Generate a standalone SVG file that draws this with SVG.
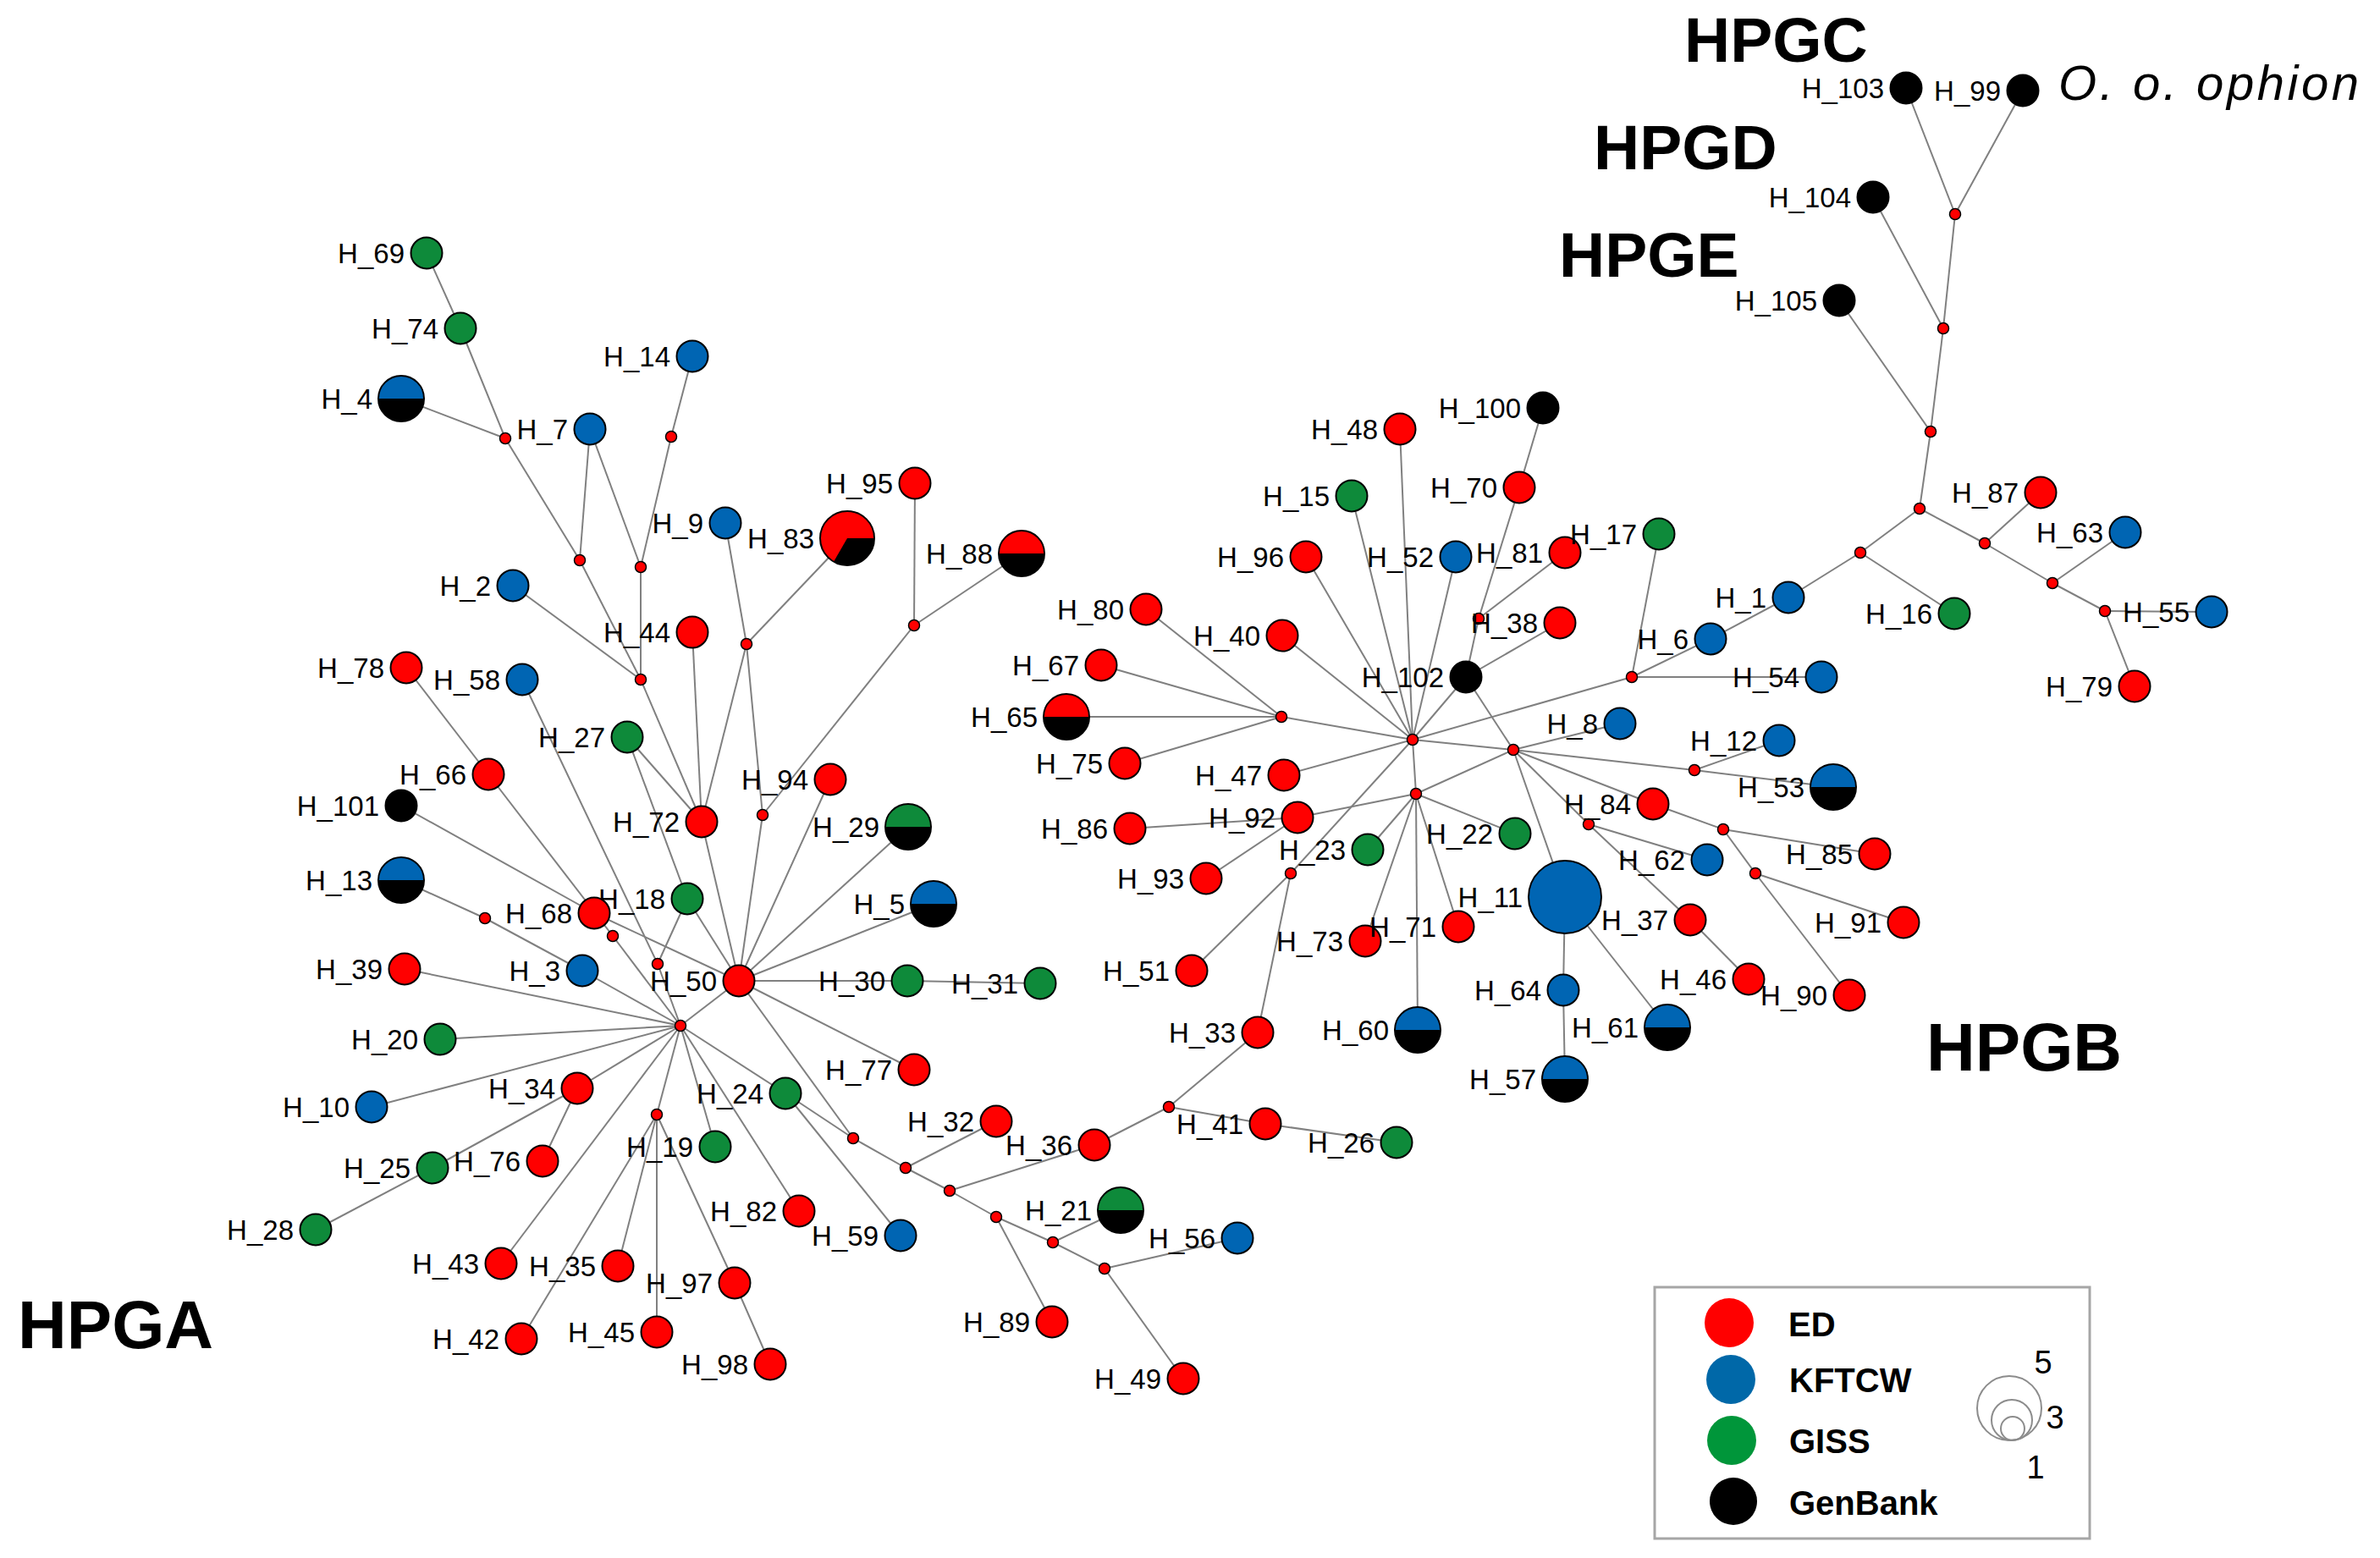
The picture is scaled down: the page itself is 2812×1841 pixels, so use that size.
<svg xmlns="http://www.w3.org/2000/svg" width="2812" height="1841" viewBox="0 0 2812 1841">
<style>
.e{stroke:#808080;stroke-width:2;fill:none}
.n{stroke:#000;stroke-width:2}
.o{fill:none;stroke:#000;stroke-width:2}
.mv{fill:#ff0000;stroke:#000;stroke-width:1.5}
.R{fill:#ff0000}.B{fill:#0065b3}.G{fill:#0e8a3a}.K{fill:#000}
.l{font-family:"Liberation Sans",Arial,sans-serif;font-size:33px;text-anchor:end;fill:#000}
.big{font-family:"Liberation Sans",Arial,sans-serif;font-weight:bold;fill:#000}
.lg{font-family:"Liberation Sans",Arial,sans-serif;font-weight:bold;font-size:40px;fill:#000}
.sz{font-family:"Liberation Sans",Arial,sans-serif;font-size:38px;text-anchor:middle;fill:#000}
</style>
<rect width="2812" height="1841" fill="#fff"/>
<g id="connectors">
<line class="e" x1="504" y1="299" x2="544" y2="388"/>
<line class="e" x1="544" y1="388" x2="597" y2="518"/>
<line class="e" x1="474" y1="471" x2="597" y2="518"/>
<line class="e" x1="597" y1="518" x2="685" y2="662"/>
<line class="e" x1="697" y1="507" x2="685" y2="662"/>
<line class="e" x1="697" y1="507" x2="757" y2="670"/>
<line class="e" x1="818" y1="421" x2="793" y2="516"/>
<line class="e" x1="793" y1="516" x2="757" y2="670"/>
<line class="e" x1="685" y1="662" x2="757" y2="803"/>
<line class="e" x1="757" y1="670" x2="757" y2="803"/>
<line class="e" x1="606" y1="692" x2="757" y2="803"/>
<line class="e" x1="757" y1="803" x2="829" y2="971"/>
<line class="e" x1="818" y1="747" x2="829" y2="971"/>
<line class="e" x1="857" y1="618" x2="882" y2="761"/>
<line class="e" x1="1001" y1="636" x2="882" y2="761"/>
<line class="e" x1="882" y1="761" x2="829" y2="971"/>
<line class="e" x1="882" y1="761" x2="901" y2="963"/>
<line class="e" x1="1081" y1="571" x2="1080" y2="739"/>
<line class="e" x1="1207" y1="654" x2="1080" y2="739"/>
<line class="e" x1="1080" y1="739" x2="901" y2="963"/>
<line class="e" x1="901" y1="963" x2="873" y2="1159"/>
<line class="e" x1="981" y1="921" x2="873" y2="1159"/>
<line class="e" x1="829" y1="971" x2="873" y2="1159"/>
<line class="e" x1="741" y1="871" x2="829" y2="971"/>
<line class="e" x1="741" y1="871" x2="812" y2="1062"/>
<line class="e" x1="812" y1="1062" x2="873" y2="1159"/>
<line class="e" x1="812" y1="1062" x2="777" y2="1139"/>
<line class="e" x1="617" y1="803" x2="777" y2="1139"/>
<line class="e" x1="777" y1="1139" x2="804" y2="1212"/>
<line class="e" x1="480" y1="789" x2="577" y2="915"/>
<line class="e" x1="577" y1="915" x2="724" y2="1106"/>
<line class="e" x1="724" y1="1106" x2="804" y2="1212"/>
<line class="e" x1="474" y1="952" x2="702" y2="1079"/>
<line class="e" x1="702" y1="1079" x2="873" y2="1159"/>
<line class="e" x1="474" y1="1040" x2="573" y2="1085"/>
<line class="e" x1="573" y1="1085" x2="688" y2="1147"/>
<line class="e" x1="688" y1="1147" x2="804" y2="1212"/>
<line class="e" x1="478" y1="1145" x2="804" y2="1212"/>
<line class="e" x1="520" y1="1228" x2="804" y2="1212"/>
<line class="e" x1="439" y1="1308" x2="804" y2="1212"/>
<line class="e" x1="682" y1="1286" x2="804" y2="1212"/>
<line class="e" x1="511" y1="1380" x2="682" y2="1286"/>
<line class="e" x1="641" y1="1372" x2="682" y2="1286"/>
<line class="e" x1="373" y1="1453" x2="511" y2="1380"/>
<line class="e" x1="804" y1="1212" x2="873" y2="1159"/>
<line class="e" x1="804" y1="1212" x2="776" y2="1317"/>
<line class="e" x1="776" y1="1317" x2="616" y2="1582"/>
<line class="e" x1="776" y1="1317" x2="730" y2="1496"/>
<line class="e" x1="776" y1="1317" x2="776" y2="1574"/>
<line class="e" x1="776" y1="1317" x2="868" y2="1516"/>
<line class="e" x1="868" y1="1516" x2="910" y2="1612"/>
<line class="e" x1="804" y1="1212" x2="592" y2="1493"/>
<line class="e" x1="804" y1="1212" x2="845" y2="1355"/>
<line class="e" x1="804" y1="1212" x2="944" y2="1431"/>
<line class="e" x1="804" y1="1212" x2="928" y2="1292"/>
<line class="e" x1="928" y1="1292" x2="1064" y2="1460"/>
<line class="e" x1="928" y1="1292" x2="1008" y2="1345"/>
<line class="e" x1="873" y1="1159" x2="1008" y2="1345"/>
<line class="e" x1="1073" y1="977" x2="873" y2="1159"/>
<line class="e" x1="1103" y1="1068" x2="873" y2="1159"/>
<line class="e" x1="1072" y1="1159" x2="873" y2="1159"/>
<line class="e" x1="1072" y1="1159" x2="1229" y2="1162"/>
<line class="e" x1="1080" y1="1264" x2="873" y2="1159"/>
<line class="e" x1="1008" y1="1345" x2="1070" y2="1380"/>
<line class="e" x1="1070" y1="1380" x2="1122" y2="1407"/>
<line class="e" x1="1122" y1="1407" x2="1177" y2="1438"/>
<line class="e" x1="1177" y1="1438" x2="1244" y2="1468"/>
<line class="e" x1="1244" y1="1468" x2="1305" y2="1499"/>
<line class="e" x1="1070" y1="1380" x2="1177" y2="1325"/>
<line class="e" x1="1122" y1="1407" x2="1293" y2="1353"/>
<line class="e" x1="1293" y1="1353" x2="1381" y2="1308"/>
<line class="e" x1="1381" y1="1308" x2="1486" y2="1220"/>
<line class="e" x1="1381" y1="1308" x2="1495" y2="1328"/>
<line class="e" x1="1495" y1="1328" x2="1650" y2="1350"/>
<line class="e" x1="1177" y1="1438" x2="1243" y2="1562"/>
<line class="e" x1="1244" y1="1468" x2="1324" y2="1430"/>
<line class="e" x1="1305" y1="1499" x2="1462" y2="1463"/>
<line class="e" x1="1305" y1="1499" x2="1398" y2="1629"/>
<line class="e" x1="1486" y1="1220" x2="1525" y2="1032"/>
<line class="e" x1="1525" y1="1032" x2="1408" y2="1147"/>
<line class="e" x1="1525" y1="1032" x2="1669" y2="874"/>
<line class="e" x1="1425" y1="1038" x2="1533" y2="966"/>
<line class="e" x1="1335" y1="979" x2="1533" y2="966"/>
<line class="e" x1="1533" y1="966" x2="1673" y2="938"/>
<line class="e" x1="1616" y1="1004" x2="1673" y2="938"/>
<line class="e" x1="1613" y1="1112" x2="1673" y2="938"/>
<line class="e" x1="1723" y1="1095" x2="1673" y2="938"/>
<line class="e" x1="1675" y1="1217" x2="1673" y2="938"/>
<line class="e" x1="1790" y1="985" x2="1673" y2="938"/>
<line class="e" x1="1673" y1="938" x2="1669" y2="874"/>
<line class="e" x1="1673" y1="938" x2="1788" y2="886"/>
<line class="e" x1="1669" y1="874" x2="1788" y2="886"/>
<line class="e" x1="1669" y1="874" x2="1928" y2="800"/>
<line class="e" x1="1669" y1="874" x2="1514" y2="847"/>
<line class="e" x1="1514" y1="847" x2="1354" y2="720"/>
<line class="e" x1="1514" y1="847" x2="1301" y2="786"/>
<line class="e" x1="1514" y1="847" x2="1260" y2="847"/>
<line class="e" x1="1514" y1="847" x2="1329" y2="902"/>
<line class="e" x1="1515" y1="751" x2="1669" y2="874"/>
<line class="e" x1="1517" y1="916" x2="1669" y2="874"/>
<line class="e" x1="1543" y1="658" x2="1669" y2="874"/>
<line class="e" x1="1597" y1="586" x2="1669" y2="874"/>
<line class="e" x1="1654" y1="507" x2="1669" y2="874"/>
<line class="e" x1="1720" y1="658" x2="1669" y2="874"/>
<line class="e" x1="1732" y1="800" x2="1669" y2="874"/>
<line class="e" x1="1732" y1="800" x2="1788" y2="886"/>
<line class="e" x1="1732" y1="800" x2="1747" y2="731"/>
<line class="e" x1="1747" y1="731" x2="1795" y2="576"/>
<line class="e" x1="1747" y1="731" x2="1849" y2="653"/>
<line class="e" x1="1795" y1="576" x2="1823" y2="482"/>
<line class="e" x1="1843" y1="736" x2="1732" y2="800"/>
<line class="e" x1="1788" y1="886" x2="1914" y2="855"/>
<line class="e" x1="1788" y1="886" x2="2002" y2="910"/>
<line class="e" x1="2002" y1="910" x2="2102" y2="875"/>
<line class="e" x1="2002" y1="910" x2="2166" y2="930"/>
<line class="e" x1="1788" y1="886" x2="1953" y2="950"/>
<line class="e" x1="1953" y1="950" x2="2036" y2="980"/>
<line class="e" x1="1788" y1="886" x2="1877" y2="974"/>
<line class="e" x1="1877" y1="974" x2="2017" y2="1016"/>
<line class="e" x1="1877" y1="974" x2="1997" y2="1087"/>
<line class="e" x1="1997" y1="1087" x2="2066" y2="1157"/>
<line class="e" x1="2036" y1="980" x2="2215" y2="1009"/>
<line class="e" x1="2036" y1="980" x2="2074" y2="1032"/>
<line class="e" x1="2074" y1="1032" x2="2249" y2="1090"/>
<line class="e" x1="2074" y1="1032" x2="2185" y2="1176"/>
<line class="e" x1="1788" y1="886" x2="1849" y2="1060"/>
<line class="e" x1="1849" y1="1060" x2="1847" y2="1170"/>
<line class="e" x1="1847" y1="1170" x2="1849" y2="1275"/>
<line class="e" x1="1849" y1="1060" x2="1970" y2="1214"/>
<line class="e" x1="1928" y1="800" x2="1960" y2="631"/>
<line class="e" x1="1928" y1="800" x2="2152" y2="800"/>
<line class="e" x1="1928" y1="800" x2="2021" y2="755"/>
<line class="e" x1="2021" y1="755" x2="2113" y2="706"/>
<line class="e" x1="2113" y1="706" x2="2198" y2="653"/>
<line class="e" x1="2198" y1="653" x2="2309" y2="725"/>
<line class="e" x1="2198" y1="653" x2="2268" y2="601"/>
<line class="e" x1="2268" y1="601" x2="2281" y2="510"/>
<line class="e" x1="2268" y1="601" x2="2345" y2="642"/>
<line class="e" x1="2345" y1="642" x2="2411" y2="582"/>
<line class="e" x1="2345" y1="642" x2="2425" y2="689"/>
<line class="e" x1="2425" y1="689" x2="2511" y2="629"/>
<line class="e" x1="2425" y1="689" x2="2487" y2="722"/>
<line class="e" x1="2487" y1="722" x2="2613" y2="723"/>
<line class="e" x1="2487" y1="722" x2="2522" y2="811"/>
<line class="e" x1="2281" y1="510" x2="2173" y2="355"/>
<line class="e" x1="2281" y1="510" x2="2296" y2="388"/>
<line class="e" x1="2296" y1="388" x2="2213" y2="233"/>
<line class="e" x1="2296" y1="388" x2="2310" y2="253"/>
<line class="e" x1="2310" y1="253" x2="2252" y2="104"/>
<line class="e" x1="2310" y1="253" x2="2390" y2="107"/>
</g>
<g id="median-vectors">
<g id="mv_a"><circle class="mv" cx="597" cy="518" r="6.5"/></g>
<g id="mv_b"><circle class="mv" cx="793" cy="516" r="6.5"/></g>
<g id="mv_c"><circle class="mv" cx="685" cy="662" r="6.5"/></g>
<g id="mv_d"><circle class="mv" cx="757" cy="670" r="6.5"/></g>
<g id="mv_e"><circle class="mv" cx="882" cy="761" r="6.5"/></g>
<g id="mv_f"><circle class="mv" cx="757" cy="803" r="6.5"/></g>
<g id="mv_g"><circle class="mv" cx="901" cy="963" r="6.5"/></g>
<g id="mv_h"><circle class="mv" cx="573" cy="1085" r="6.5"/></g>
<g id="mv_i"><circle class="mv" cx="724" cy="1106" r="6.5"/></g>
<g id="mv_j"><circle class="mv" cx="777" cy="1139" r="6.5"/></g>
<g id="mv_k"><circle class="mv" cx="804" cy="1212" r="6.5"/></g>
<g id="mv_l"><circle class="mv" cx="776" cy="1317" r="6.5"/></g>
<g id="mv_m"><circle class="mv" cx="1080" cy="739" r="6.5"/></g>
<g id="mv_n"><circle class="mv" cx="1514" cy="847" r="6.5"/></g>
<g id="mv_o"><circle class="mv" cx="1669" cy="874" r="6.5"/></g>
<g id="mv_p"><circle class="mv" cx="1673" cy="938" r="6.5"/></g>
<g id="mv_q"><circle class="mv" cx="1788" cy="886" r="6.5"/></g>
<g id="mv_r"><circle class="mv" cx="1525" cy="1032" r="6.5"/></g>
<g id="mv_s"><circle class="mv" cx="1747" cy="731" r="6.5"/></g>
<g id="mv_t"><circle class="mv" cx="2281" cy="510" r="6.5"/></g>
<g id="mv_u"><circle class="mv" cx="2268" cy="601" r="6.5"/></g>
<g id="mv_v"><circle class="mv" cx="2345" cy="642" r="6.5"/></g>
<g id="mv_w"><circle class="mv" cx="2198" cy="653" r="6.5"/></g>
<g id="mv_x"><circle class="mv" cx="2425" cy="689" r="6.5"/></g>
<g id="mv_y"><circle class="mv" cx="2487" cy="722" r="6.5"/></g>
<g id="mv_z"><circle class="mv" cx="1928" cy="800" r="6.5"/></g>
<g id="mv_aa"><circle class="mv" cx="2002" cy="910" r="6.5"/></g>
<g id="mv_bb"><circle class="mv" cx="1877" cy="974" r="6.5"/></g>
<g id="mv_cc"><circle class="mv" cx="2036" cy="980" r="6.5"/></g>
<g id="mv_dd"><circle class="mv" cx="2074" cy="1032" r="6.5"/></g>
<g id="mv_ee"><circle class="mv" cx="1381" cy="1308" r="6.5"/></g>
<g id="mv_ff"><circle class="mv" cx="1008" cy="1345" r="6.5"/></g>
<g id="mv_gg"><circle class="mv" cx="1070" cy="1380" r="6.5"/></g>
<g id="mv_hh"><circle class="mv" cx="1122" cy="1407" r="6.5"/></g>
<g id="mv_ii"><circle class="mv" cx="1177" cy="1438" r="6.5"/></g>
<g id="mv_jj"><circle class="mv" cx="1244" cy="1468" r="6.5"/></g>
<g id="mv_kk"><circle class="mv" cx="1305" cy="1499" r="6.5"/></g>
<g id="mv_ll"><circle class="mv" cx="2310" cy="253" r="6.5"/></g>
<g id="mv_mm"><circle class="mv" cx="2296" cy="388" r="6.5"/></g>
</g>
<g id="haplotypes">
<g id="H_69"><circle class="n G" cx="504" cy="299" r="18.5"/><text class="l" x="478" y="311">H_69</text></g>
<g id="H_74"><circle class="n G" cx="544" cy="388" r="18.5"/><text class="l" x="518" y="400">H_74</text></g>
<g id="H_14"><circle class="n B" cx="818" cy="421" r="18.5"/><text class="l" x="792" y="433">H_14</text></g>
<g id="H_4"><circle class="K" cx="474" cy="471" r="27"/><path class="B" d="M447,471 A27,27 0 0 1 501,471 Z"/><circle class="o" cx="474" cy="471" r="27"/><text class="l" x="440" y="483">H_4</text></g>
<g id="H_7"><circle class="n B" cx="697" cy="507" r="18.5"/><text class="l" x="671" y="519">H_7</text></g>
<g id="H_9"><circle class="n B" cx="857" cy="618" r="18.5"/><text class="l" x="831" y="630">H_9</text></g>
<g id="H_2"><circle class="n B" cx="606" cy="692" r="18.5"/><text class="l" x="580" y="704">H_2</text></g>
<g id="H_44"><circle class="n R" cx="818" cy="747" r="18.5"/><text class="l" x="792" y="759">H_44</text></g>
<g id="H_78"><circle class="n R" cx="480" cy="789" r="18.5"/><text class="l" x="454" y="801">H_78</text></g>
<g id="H_58"><circle class="n B" cx="617" cy="803" r="18.5"/><text class="l" x="591" y="815">H_58</text></g>
<g id="H_27"><circle class="n G" cx="741" cy="871" r="18.5"/><text class="l" x="715" y="883">H_27</text></g>
<g id="H_66"><circle class="n R" cx="577" cy="915" r="18.5"/><text class="l" x="551" y="927">H_66</text></g>
<g id="H_101"><circle class="n K" cx="474" cy="952" r="18.5"/><text class="l" x="448" y="964">H_101</text></g>
<g id="H_72"><circle class="n R" cx="829" cy="971" r="18.5"/><text class="l" x="803" y="983">H_72</text></g>
<g id="H_94"><circle class="n R" cx="981" cy="921" r="18.5"/><text class="l" x="955" y="933">H_94</text></g>
<g id="H_13"><circle class="K" cx="474" cy="1040" r="27"/><path class="B" d="M447,1040 A27,27 0 0 1 501,1040 Z"/><circle class="o" cx="474" cy="1040" r="27"/><text class="l" x="440" y="1052">H_13</text></g>
<g id="H_18"><circle class="n G" cx="812" cy="1062" r="18.5"/><text class="l" x="786" y="1074">H_18</text></g>
<g id="H_68"><circle class="n R" cx="702" cy="1079" r="18.5"/><text class="l" x="676" y="1091">H_68</text></g>
<g id="H_39"><circle class="n R" cx="478" cy="1145" r="18.5"/><text class="l" x="452" y="1157">H_39</text></g>
<g id="H_3"><circle class="n B" cx="688" cy="1147" r="18.5"/><text class="l" x="662" y="1159">H_3</text></g>
<g id="H_50"><circle class="n R" cx="873" cy="1159" r="18.5"/><text class="l" x="847" y="1171">H_50</text></g>
<g id="H_20"><circle class="n G" cx="520" cy="1228" r="18.5"/><text class="l" x="494" y="1240">H_20</text></g>
<g id="H_34"><circle class="n R" cx="682" cy="1286" r="18.5"/><text class="l" x="656" y="1298">H_34</text></g>
<g id="H_10"><circle class="n B" cx="439" cy="1308" r="18.5"/><text class="l" x="413" y="1320">H_10</text></g>
<g id="H_24"><circle class="n G" cx="928" cy="1292" r="18.5"/><text class="l" x="902" y="1304">H_24</text></g>
<g id="H_19"><circle class="n G" cx="845" cy="1355" r="18.5"/><text class="l" x="819" y="1367">H_19</text></g>
<g id="H_76"><circle class="n R" cx="641" cy="1372" r="18.5"/><text class="l" x="615" y="1384">H_76</text></g>
<g id="H_25"><circle class="n G" cx="511" cy="1380" r="18.5"/><text class="l" x="485" y="1392">H_25</text></g>
<g id="H_82"><circle class="n R" cx="944" cy="1431" r="18.5"/><text class="l" x="918" y="1443">H_82</text></g>
<g id="H_28"><circle class="n G" cx="373" cy="1453" r="18.5"/><text class="l" x="347" y="1465">H_28</text></g>
<g id="H_43"><circle class="n R" cx="592" cy="1493" r="18.5"/><text class="l" x="566" y="1505">H_43</text></g>
<g id="H_35"><circle class="n R" cx="730" cy="1496" r="18.5"/><text class="l" x="704" y="1508">H_35</text></g>
<g id="H_97"><circle class="n R" cx="868" cy="1516" r="18.5"/><text class="l" x="842" y="1528">H_97</text></g>
<g id="H_42"><circle class="n R" cx="616" cy="1582" r="18.5"/><text class="l" x="590" y="1594">H_42</text></g>
<g id="H_45"><circle class="n R" cx="776" cy="1574" r="18.5"/><text class="l" x="750" y="1586">H_45</text></g>
<g id="H_98"><circle class="n R" cx="910" cy="1612" r="18.5"/><text class="l" x="884" y="1624">H_98</text></g>
<g id="H_95"><circle class="n R" cx="1081" cy="571" r="18.5"/><text class="l" x="1055" y="583">H_95</text></g>
<g id="H_83"><circle class="R" cx="1001" cy="636" r="32"/><path class="K" d="M1001,636 L1033,636 A32,32 0 0 1 985,663.7 Z"/><circle class="o" cx="1001" cy="636" r="32"/><text class="l" x="962" y="648">H_83</text></g>
<g id="H_88"><circle class="K" cx="1207" cy="654" r="27"/><path class="R" d="M1180,654 A27,27 0 0 1 1234,654 Z"/><circle class="o" cx="1207" cy="654" r="27"/><text class="l" x="1173" y="666">H_88</text></g>
<g id="H_29"><circle class="K" cx="1073" cy="977" r="27"/><path class="G" d="M1046,977 A27,27 0 0 1 1100,977 Z"/><circle class="o" cx="1073" cy="977" r="27"/><text class="l" x="1039" y="989">H_29</text></g>
<g id="H_5"><circle class="K" cx="1103" cy="1068" r="27"/><path class="B" d="M1076,1068 A27,27 0 0 1 1130,1068 Z"/><circle class="o" cx="1103" cy="1068" r="27"/><text class="l" x="1069" y="1080">H_5</text></g>
<g id="H_30"><circle class="n G" cx="1072" cy="1159" r="18.5"/><text class="l" x="1046" y="1171">H_30</text></g>
<g id="H_31"><circle class="n G" cx="1229" cy="1162" r="18.5"/><text class="l" x="1203" y="1174">H_31</text></g>
<g id="H_77"><circle class="n R" cx="1080" cy="1264" r="18.5"/><text class="l" x="1054" y="1276">H_77</text></g>
<g id="H_59"><circle class="n B" cx="1064" cy="1460" r="18.5"/><text class="l" x="1038" y="1472">H_59</text></g>
<g id="H_32"><circle class="n R" cx="1177" cy="1325" r="18.5"/><text class="l" x="1151" y="1337">H_32</text></g>
<g id="H_36"><circle class="n R" cx="1293" cy="1353" r="18.5"/><text class="l" x="1267" y="1365">H_36</text></g>
<g id="H_21"><circle class="K" cx="1324" cy="1430" r="27"/><path class="G" d="M1297,1430 A27,27 0 0 1 1351,1430 Z"/><circle class="o" cx="1324" cy="1430" r="27"/><text class="l" x="1290" y="1442">H_21</text></g>
<g id="H_56"><circle class="n B" cx="1462" cy="1463" r="18.5"/><text class="l" x="1436" y="1475">H_56</text></g>
<g id="H_89"><circle class="n R" cx="1243" cy="1562" r="18.5"/><text class="l" x="1217" y="1574">H_89</text></g>
<g id="H_49"><circle class="n R" cx="1398" cy="1629" r="18.5"/><text class="l" x="1372" y="1641">H_49</text></g>
<g id="H_33"><circle class="n R" cx="1486" cy="1220" r="18.5"/><text class="l" x="1460" y="1232">H_33</text></g>
<g id="H_41"><circle class="n R" cx="1495" cy="1328" r="18.5"/><text class="l" x="1469" y="1340">H_41</text></g>
<g id="H_26"><circle class="n G" cx="1650" cy="1350" r="18.5"/><text class="l" x="1624" y="1362">H_26</text></g>
<g id="H_51"><circle class="n R" cx="1408" cy="1147" r="18.5"/><text class="l" x="1382" y="1159">H_51</text></g>
<g id="H_93"><circle class="n R" cx="1425" cy="1038" r="18.5"/><text class="l" x="1399" y="1050">H_93</text></g>
<g id="H_86"><circle class="n R" cx="1335" cy="979" r="18.5"/><text class="l" x="1309" y="991">H_86</text></g>
<g id="H_92"><circle class="n R" cx="1533" cy="966" r="18.5"/><text class="l" x="1507" y="978">H_92</text></g>
<g id="H_23"><circle class="n G" cx="1616" cy="1004" r="18.5"/><text class="l" x="1590" y="1016">H_23</text></g>
<g id="H_73"><circle class="n R" cx="1613" cy="1112" r="18.5"/><text class="l" x="1587" y="1124">H_73</text></g>
<g id="H_71"><circle class="n R" cx="1723" cy="1095" r="18.5"/><text class="l" x="1697" y="1107">H_71</text></g>
<g id="H_60"><circle class="K" cx="1675" cy="1217" r="27"/><path class="B" d="M1648,1217 A27,27 0 0 1 1702,1217 Z"/><circle class="o" cx="1675" cy="1217" r="27"/><text class="l" x="1641" y="1229">H_60</text></g>
<g id="H_22"><circle class="n G" cx="1790" cy="985" r="18.5"/><text class="l" x="1764" y="997">H_22</text></g>
<g id="H_80"><circle class="n R" cx="1354" cy="720" r="18.5"/><text class="l" x="1328" y="732">H_80</text></g>
<g id="H_40"><circle class="n R" cx="1515" cy="751" r="18.5"/><text class="l" x="1489" y="763">H_40</text></g>
<g id="H_67"><circle class="n R" cx="1301" cy="786" r="18.5"/><text class="l" x="1275" y="798">H_67</text></g>
<g id="H_65"><circle class="K" cx="1260" cy="847" r="27"/><path class="R" d="M1233,847 A27,27 0 0 1 1287,847 Z"/><circle class="o" cx="1260" cy="847" r="27"/><text class="l" x="1226" y="859">H_65</text></g>
<g id="H_75"><circle class="n R" cx="1329" cy="902" r="18.5"/><text class="l" x="1303" y="914">H_75</text></g>
<g id="H_47"><circle class="n R" cx="1517" cy="916" r="18.5"/><text class="l" x="1491" y="928">H_47</text></g>
<g id="H_48"><circle class="n R" cx="1654" cy="507" r="18.5"/><text class="l" x="1628" y="519">H_48</text></g>
<g id="H_100"><circle class="n K" cx="1823" cy="482" r="18.5"/><text class="l" x="1797" y="494">H_100</text></g>
<g id="H_15"><circle class="n G" cx="1597" cy="586" r="18.5"/><text class="l" x="1571" y="598">H_15</text></g>
<g id="H_70"><circle class="n R" cx="1795" cy="576" r="18.5"/><text class="l" x="1769" y="588">H_70</text></g>
<g id="H_96"><circle class="n R" cx="1543" cy="658" r="18.5"/><text class="l" x="1517" y="670">H_96</text></g>
<g id="H_52"><circle class="n B" cx="1720" cy="658" r="18.5"/><text class="l" x="1694" y="670">H_52</text></g>
<g id="H_81"><circle class="n R" cx="1849" cy="653" r="18.5"/><text class="l" x="1823" y="665">H_81</text></g>
<g id="H_38"><circle class="n R" cx="1843" cy="736" r="18.5"/><text class="l" x="1817" y="748">H_38</text></g>
<g id="H_102"><circle class="n K" cx="1732" cy="800" r="18.5"/><text class="l" x="1706" y="812">H_102</text></g>
<g id="H_17"><circle class="n G" cx="1960" cy="631" r="18.5"/><text class="l" x="1934" y="643">H_17</text></g>
<g id="H_1"><circle class="n B" cx="2113" cy="706" r="18.5"/><text class="l" x="2087" y="718">H_1</text></g>
<g id="H_6"><circle class="n B" cx="2021" cy="755" r="18.5"/><text class="l" x="1995" y="767">H_6</text></g>
<g id="H_54"><circle class="n B" cx="2152" cy="800" r="18.5"/><text class="l" x="2126" y="812">H_54</text></g>
<g id="H_8"><circle class="n B" cx="1914" cy="855" r="18.5"/><text class="l" x="1888" y="867">H_8</text></g>
<g id="H_12"><circle class="n B" cx="2102" cy="875" r="18.5"/><text class="l" x="2076" y="887">H_12</text></g>
<g id="H_53"><circle class="K" cx="2166" cy="930" r="27"/><path class="B" d="M2139,930 A27,27 0 0 1 2193,930 Z"/><circle class="o" cx="2166" cy="930" r="27"/><text class="l" x="2132" y="942">H_53</text></g>
<g id="H_84"><circle class="n R" cx="1953" cy="950" r="18.5"/><text class="l" x="1927" y="962">H_84</text></g>
<g id="H_62"><circle class="n B" cx="2017" cy="1016" r="18.5"/><text class="l" x="1991" y="1028">H_62</text></g>
<g id="H_85"><circle class="n R" cx="2215" cy="1009" r="18.5"/><text class="l" x="2189" y="1021">H_85</text></g>
<g id="H_11"><circle class="n B" cx="1849" cy="1060" r="43"/><text class="l" x="1799" y="1072">H_11</text></g>
<g id="H_37"><circle class="n R" cx="1997" cy="1087" r="18.5"/><text class="l" x="1971" y="1099">H_37</text></g>
<g id="H_91"><circle class="n R" cx="2249" cy="1090" r="18.5"/><text class="l" x="2223" y="1102">H_91</text></g>
<g id="H_64"><circle class="n B" cx="1847" cy="1170" r="18.5"/><text class="l" x="1821" y="1182">H_64</text></g>
<g id="H_46"><circle class="n R" cx="2066" cy="1157" r="18.5"/><text class="l" x="2040" y="1169">H_46</text></g>
<g id="H_90"><circle class="n R" cx="2185" cy="1176" r="18.5"/><text class="l" x="2159" y="1188">H_90</text></g>
<g id="H_61"><circle class="K" cx="1970" cy="1214" r="27"/><path class="B" d="M1943,1214 A27,27 0 0 1 1997,1214 Z"/><circle class="o" cx="1970" cy="1214" r="27"/><text class="l" x="1936" y="1226">H_61</text></g>
<g id="H_57"><circle class="K" cx="1849" cy="1275" r="27"/><path class="B" d="M1822,1275 A27,27 0 0 1 1876,1275 Z"/><circle class="o" cx="1849" cy="1275" r="27"/><text class="l" x="1815" y="1287">H_57</text></g>
<g id="H_87"><circle class="n R" cx="2411" cy="582" r="18.5"/><text class="l" x="2385" y="594">H_87</text></g>
<g id="H_63"><circle class="n B" cx="2511" cy="629" r="18.5"/><text class="l" x="2485" y="641">H_63</text></g>
<g id="H_16"><circle class="n G" cx="2309" cy="725" r="18.5"/><text class="l" x="2283" y="737">H_16</text></g>
<g id="H_55"><circle class="n B" cx="2613" cy="723" r="18.5"/><text class="l" x="2587" y="735">H_55</text></g>
<g id="H_79"><circle class="n R" cx="2522" cy="811" r="18.5"/><text class="l" x="2496" y="823">H_79</text></g>
<g id="H_103"><circle class="n K" cx="2252" cy="104" r="18.5"/><text class="l" x="2226" y="116">H_103</text></g>
<g id="H_99"><circle class="n K" cx="2390" cy="107" r="18.5"/><text class="l" x="2364" y="119">H_99</text></g>
<g id="H_104"><circle class="n K" cx="2213" cy="233" r="18.5"/><text class="l" x="2187" y="245">H_104</text></g>
<g id="H_105"><circle class="n K" cx="2173" cy="355" r="18.5"/><text class="l" x="2147" y="367">H_105</text></g>
</g>
<g id="group-labels">
<text class="big" x="21" y="1593" font-size="80">HPGA</text>
<text class="big" x="2276" y="1265" font-size="80">HPGB</text>
<text class="big" x="1990" y="73" font-size="75">HPGC</text>
<text class="big" x="1883" y="200" font-size="75">HPGD</text>
<text class="big" x="1842" y="327" font-size="75">HPGE</text>
<text x="2432" y="118" font-family="Liberation Sans, Arial, sans-serif" font-style="italic" font-size="58" textLength="355" lengthAdjust="spacing">O. o. ophion</text>
</g>
<g id="legend">
<rect x="1955" y="1521" width="514" height="297" fill="#fff" stroke="#a6a6a6" stroke-width="3"/>
<circle cx="2043" cy="1563" r="29" fill="#ff0000"/>
<circle cx="2045" cy="1630" r="29" fill="#0068a8"/>
<circle cx="2046" cy="1702" r="29" fill="#00963a"/>
<circle cx="2048" cy="1774" r="28" fill="#000"/>
<text class="lg" x="2113" y="1579">ED</text>
<text class="lg" x="2114" y="1645">KFTCW</text>
<text class="lg" x="2114" y="1717">GISS</text>
<text class="lg" x="2114" y="1790">GenBank</text>
<circle cx="2374" cy="1664" r="38" fill="none" stroke="#8c8c8c" stroke-width="2"/>
<circle cx="2377" cy="1678" r="24" fill="none" stroke="#8c8c8c" stroke-width="2"/>
<circle cx="2378" cy="1688" r="14" fill="none" stroke="#8c8c8c" stroke-width="2"/>
<text class="sz" x="2414" y="1623">5</text>
<text class="sz" x="2428" y="1688">3</text>
<text class="sz" x="2405" y="1747">1</text>
</g>
</svg>
